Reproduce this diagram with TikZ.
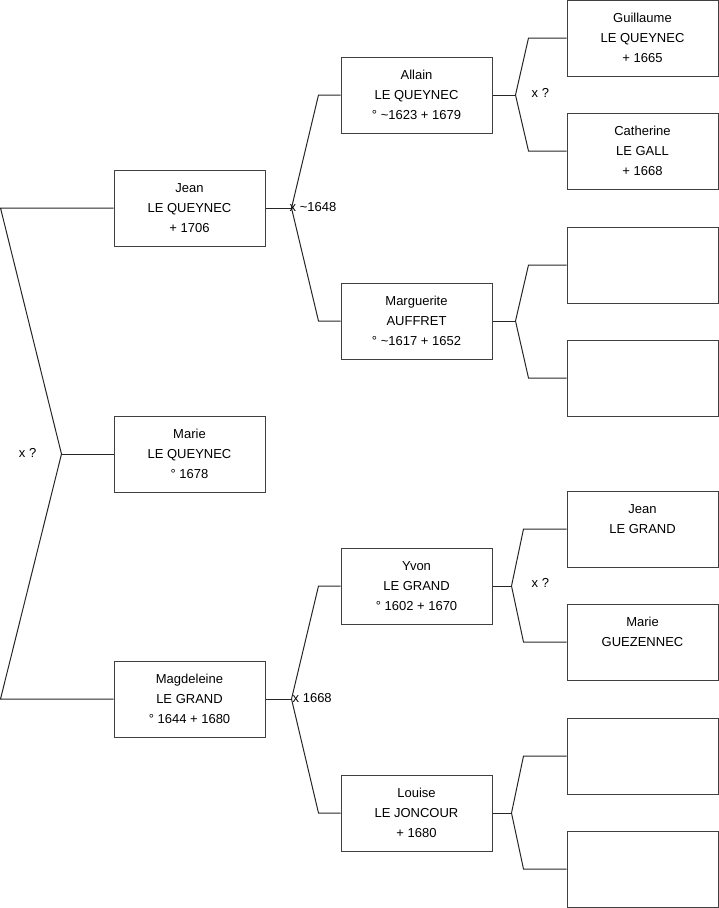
\documentclass[tikz,border=0pt]{standalone}
\usepackage{fontspec}
\setmainfont{Liberation Sans}
\usepackage{tikz}

\tikzset{
  person/.style={draw=black!75, line width=1pt, minimum width=151pt, minimum height=76pt,
    inner sep=0pt, align=center, font=\fontsize{13}{20}\selectfont},
  link/.style={black!85, line width=1pt},
  union/.style={inner sep=0pt, font=\fontsize{13}{15}\selectfont}
}

\begin{document}
\begin{tikzpicture}[x=1pt, y=-1pt]
  \useasboundingbox (0,0) rectangle (719,908);
  % children
  \node[person] (jean)   at (189.5,208) {Jean\\LE QUEYNEC\\+ 1706};
  \node[person] (marie)  at (189.5,454) {Marie\\LE QUEYNEC\\\textdegree{} 1678};
  \node[person] (magd)   at (189.5,699) {Magdeleine\\LE GRAND\\\textdegree{} 1644 + 1680};
  % parents
  \node[person] (allain) at (416.5,95)  {Allain\\LE QUEYNEC\\\textdegree{} \textasciitilde1623 + 1679};
  \node[person] (marg)   at (416.5,321) {Marguerite\\AUFFRET\\\textdegree{} \textasciitilde1617 + 1652};
  \node[person] (yvon)   at (416.5,586) {Yvon\\LE GRAND\\\textdegree{} 1602 + 1670};
  \node[person] (louise) at (416.5,813) {Louise\\LE JONCOUR\\+ 1680};
  % grandparents
  \node[person] (g1) at (642.5,38) {Guillaume\\LE QUEYNEC\\+ 1665};
  \node[person] (g2) at (642.5,151)  {Catherine\\LE GALL\\+ 1668};
  \node[person] (g3) at (642.5,265)  {};
  \node[person] (g4) at (642.5,378)  {};
  \node[person] (g5) at (642.5,529)  {Jean\\LE GRAND\\\mbox{}};
  \node[person] (g6) at (642.5,642)  {Marie\\GUEZENNEC\\\mbox{}};
  \node[person] (g7) at (642.5,756)  {};
  \node[person] (g8) at (642.5,869)  {};

  % siblings
  \draw[link] (marie.west) -- ++(-52,0) coordinate (f0);
  \draw[link] (jean.west) -- ++(-113,0) -- (f0) -- ([xshift=-113pt]magd.west) -- (magd.west);
  \node[union, anchor=east] (u0) at ([shift={(-25,-1)}]f0) {x ?};

  % couples
  \draw[link] (jean.east) -- ++(26,0) coordinate (fjean);
  \draw[link] (allain.west) -- ++(-22,0) -- (fjean) -- ([xshift=-22pt]marg.west) -- (marg.west);
  \node[union, anchor=west] (u1) at ([shift={(-2,-1)}]fjean) {x \textasciitilde1648};

  \draw[link] (magd.east) -- ++(26,0) coordinate (fmagd);
  \draw[link] (yvon.west) -- ++(-22,0) -- (fmagd) -- ([xshift=-22pt]louise.west) -- (louise.west);
  \node[union, anchor=west] (u2) at ([shift={(1,-1)}]fmagd) {x 1668};

  \foreach \p/\a/\b/\d/\k in {allain/g1/g2/23/38, marg/g3/g4/23/38, yvon/g5/g6/19/43, louise/g7/g8/19/43} {
    \draw[link] (\p.east) -- ++(\d,0) coordinate (f\p);
    \draw[link] (\a.west) -- ++(-\k,0) -- (f\p) -- ([xshift=-\k pt]\b.west) -- (\b.west);
  }
  \node[union, anchor=west] (u3) at ([shift={(16,-2)}]fallain) {x ?};
  \node[union, anchor=west] (u4) at ([shift={(20,-3)}]fyvon) {x ?};
\end{tikzpicture}
\end{document}
